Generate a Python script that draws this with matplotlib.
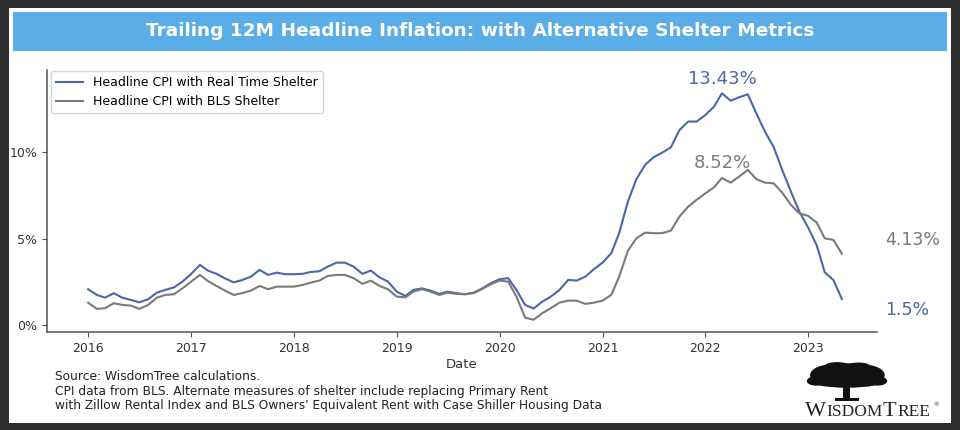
import matplotlib
matplotlib.use('Agg')
from matplotlib import pyplot as plt
from matplotlib.patches import Rectangle, Ellipse
import matplotlib.dates as mdates
import matplotlib.ticker as mticker
import pandas as pd

# monthly trailing 12M inflation, Jan 2016 - May 2023
dates = pd.date_range('2016-01-01', '2023-05-01', freq='MS')
real_time = [2.07, 1.74, 1.58, 1.84, 1.58, 1.45, 1.31, 1.49, 1.87, 2.03, 2.18, 2.51,
             2.96, 3.48, 3.15, 2.96, 2.70, 2.47, 2.60, 2.80, 3.19, 2.90, 3.03, 2.94,
             2.94, 2.96, 3.07, 3.11, 3.38, 3.61, 3.61, 3.38, 2.96, 3.15, 2.76, 2.51,
             1.93, 1.68, 2.03, 2.12, 1.99, 1.80, 1.93, 1.84, 1.78, 1.87, 2.12, 2.42,
             2.65, 2.71, 2.03, 1.16, 0.95, 1.35, 1.64, 2.03, 2.61, 2.57, 2.80, 3.23,
             3.61, 4.16, 5.32, 7.15, 8.45, 9.28, 9.72, 9.99, 10.30, 11.30, 11.79, 11.79,
             12.17, 12.66, 13.43, 13.00, 13.20, 13.37, 12.27, 11.20, 10.30, 8.99, 7.73, 6.57,
             5.65, 4.60, 3.05, 2.60, 1.50]
bls = [1.29, 0.93, 0.97, 1.26, 1.16, 1.12, 0.93, 1.16, 1.58, 1.74, 1.78, 2.12,
       2.51, 2.90, 2.55, 2.26, 1.99, 1.74, 1.84, 1.99, 2.26, 2.07, 2.22, 2.22,
       2.22, 2.32, 2.45, 2.57, 2.84, 2.90, 2.90, 2.71, 2.38, 2.57, 2.26, 2.07,
       1.64, 1.60, 1.93, 2.07, 1.93, 1.74, 1.87, 1.80, 1.78, 1.84, 2.09, 2.36,
       2.57, 2.51, 1.64, 0.42, 0.30, 0.68, 0.97, 1.29, 1.41, 1.41, 1.22, 1.29,
       1.41, 1.74, 2.80, 4.30, 5.02, 5.35, 5.32, 5.32, 5.47, 6.28, 6.86, 7.25,
       7.63, 7.98, 8.52, 8.25, 8.60, 8.99, 8.45, 8.25, 8.21, 7.67, 6.96, 6.47,
       6.32, 5.93, 5.02, 4.93, 4.13]
labels = ['Headline CPI with Real Time Shelter', 'Headline CPI with BLS Shelter']
title = 'Trailing 12M Headline Inflation: with Alternative Shelter Metrics'
footer = ['Source: WisdomTree calculations.',
          'CPI data from BLS. Alternate measures of shelter include replacing Primary Rent',
          "with Zillow Rental Index and BLS Owners' Equivalent Rent with Case Shiller Housing Data"]

blue = '#4a67a8'
grey = '#7a7a7a'
W, H = 960, 430

fig = plt.figure(figsize=(9.6, 4.3), dpi=100)
fig.patch.set_facecolor('#2e2e2e')
fig.add_artist(Rectangle((9/W, 7/H), 942/W, 415/H, transform=fig.transFigure,
                         fc='white', ec='none', zorder=0))
fig.add_artist(Rectangle((13/W, 1-51/H), 934/W, 39/H, transform=fig.transFigure,
                         fc='#5aade6', ec='none', zorder=1))
fig.text(0.5, 1-31/H, title, ha='center', va='center', color='white',
         fontsize=13.3, fontweight='bold', zorder=2)

ax = fig.add_axes([47/W, 1-332/H, 830/W, 262/H])
ax.plot(dates, real_time, color=blue, lw=1.5, label=labels[0])
ax.plot(dates, bls, color=grey, lw=1.5, label=labels[1])

x0 = mdates.date2num(pd.Timestamp('2016-01-01')) - 0.40*365.25
x1 = mdates.date2num(pd.Timestamp('2023-01-01')) + 0.67*365.25
ax.set_xlim(x0, x1)
ax.set_ylim(-0.41, 14.78)
ax.xaxis.set_major_locator(mdates.YearLocator())
ax.xaxis.set_major_formatter(mdates.DateFormatter('%Y'))
ax.yaxis.set_major_locator(mticker.FixedLocator([0, 5, 10]))
ax.yaxis.set_major_formatter(mticker.FuncFormatter(lambda v, p: f'{v:.0f}%'))
ax.spines['top'].set_visible(False)
ax.spines['right'].set_visible(False)
for s in ['left', 'bottom']:
    ax.spines[s].set_color('#555555')
    ax.spines[s].set_linewidth(1.1)
ax.tick_params(colors='#555555', labelcolor='#333333', labelsize=9)
ax.set_xlabel('Date', fontsize=9.5, color='#333333', labelpad=2)
ax.legend(loc='upper left', fontsize=9, frameon=True, borderaxespad=0.3,
          handlelength=2.2, bbox_to_anchor=(0.0, 1.01))

# annotations
imax = real_time.index(max(real_time))
ax.text(dates[imax], real_time[imax] + 0.85, f'{real_time[imax]:.2f}%', color=blue,
        ha='center', va='center', fontsize=13)
ax.text(dates[imax], bls[imax] + 0.85, f'{bls[imax]:.2f}%', color=grey,
        ha='center', va='center', fontsize=13)
xend = pd.Timestamp('2023-10-01')
ax.text(xend, bls[-1] + 0.8, f'{round(bls[-1], 2)}%', color=grey,
        ha='left', va='center', fontsize=12.5, clip_on=False)
ax.text(xend, real_time[-1] - 0.63, f'{round(real_time[-1], 2)}%', color=blue,
        ha='left', va='center', fontsize=12.5, clip_on=False)

# footer
for i, line in enumerate(footer):
    fig.text(55/W, 1-(377 + i*14.5)/H, line, ha='left', va='center', fontsize=8.8,
             color='#222222')

# logo
lax = fig.add_axes([806/W, 1-402/H, 82/W, 42/H])
lax.set_xlim(0, 1)
lax.set_ylim(0, 1)
lax.axis('off')
canopy = [(0.5, 0.52, 0.95, 0.36), (0.3, 0.64, 0.5, 0.5), (0.7, 0.64, 0.52, 0.5),
          (0.5, 0.76, 0.55, 0.32), (0.12, 0.5, 0.22, 0.22), (0.88, 0.5, 0.22, 0.22),
          (0.38, 0.86, 0.3, 0.18), (0.64, 0.86, 0.28, 0.16)]
for cx, cy, w, h in canopy:
    lax.add_patch(Ellipse((cx, cy), w, h, fc='#111111', ec='none'))
lax.add_patch(Rectangle((0.45, 0.06), 0.09, 0.4, fc='#111111', ec='none'))
lax.add_patch(Rectangle((0.35, 0.02), 0.3, 0.07, fc='#111111', ec='none'))
logo_font = dict(family='Liberation Serif', color='#222222', va='baseline')
fig.text(805/W, 1-416/H, 'W', fontsize=16, **logo_font)
fig.text(826/W, 1-416/H, 'ISDOM', fontsize=12.5, **logo_font)
fig.text(883/W, 1-416/H, 'T', fontsize=16, **logo_font)
fig.text(897/W, 1-416/H, 'REE', fontsize=12.5, **logo_font)
fig.text(934/W, 1-406/H, '®', fontsize=5, **logo_font)

fig.savefig('out.png', dpi=100, facecolor=fig.get_facecolor())
